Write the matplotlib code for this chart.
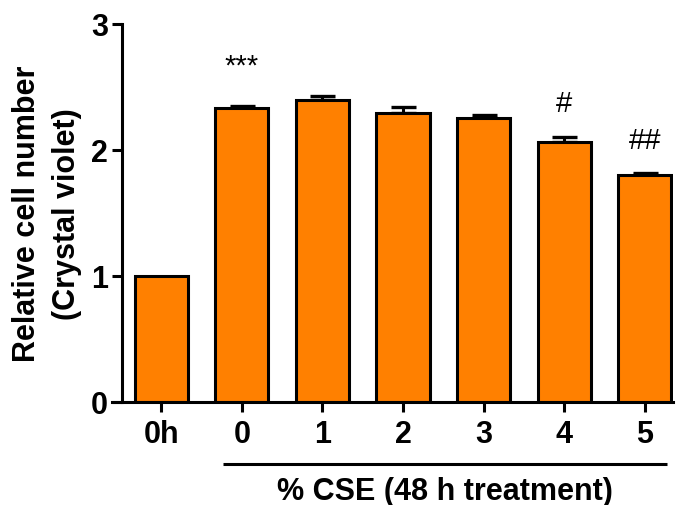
import matplotlib.pyplot as plt
import matplotlib.transforms as mtransforms
import numpy as np

plt.rcParams["font.family"] = ["Liberation Sans", "DejaVu Sans"]

ORANGE = "#FF8000"
INK = "#000000"

groups = ["0h", "0", "1", "2", "3", "4", "5"]
values = [1.00, 2.33, 2.40, 2.29, 2.25, 2.06, 1.80]
errors = [0.0, 0.02, 0.03, 0.05, 0.025, 0.04, 0.02]
marks = ["", "***", "", "", "", "#", "##"]
mark_y = [0.0, 2.56, 0.0, 0.0, 0.0, 2.26, 1.97]

fig = plt.figure(figsize=(6.77, 5.06), dpi=100)
ax = fig.add_axes([0.1654, 0.2036, 0.8287, 0.747])

x = np.arange(len(groups))
ax.bar(x, values, width=0.66, color=ORANGE, edgecolor=INK, linewidth=2.2,
       zorder=2)
ax.errorbar(x[1:], values[1:], yerr=[np.zeros(len(x) - 1), errors[1:]],
            fmt="none", ecolor=INK, elinewidth=2.2, capsize=9, capthick=2.4,
            zorder=1)

for xi, m, my in zip(x, marks, mark_y):
    if m:
        ax.text(xi, my, m, ha="center", va="bottom", fontsize=21, color=INK)

ax.set_xlim(-0.61, 6.35)
ax.set_ylim(0, 3)
ax.set_yticks([0, 1, 2, 3])
ax.set_xticks(x)
ax.set_xticklabels(groups)

for s in ("top", "right"):
    ax.spines[s].set_visible(False)
ax.spines["left"].set_position(("data", -0.484))
for s in ("left", "bottom"):
    ax.spines[s].set_linewidth(2.2)
ax.spines["left"].set_bounds(0, 3)

ax.tick_params(axis="both", width=2.2, length=7, labelsize=22, color=INK)
ax.tick_params(axis="y", pad=3)
ax.tick_params(axis="x", pad=5)
for lab in ax.get_xticklabels() + ax.get_yticklabels():
    lab.set_fontweight("bold")

ax.set_ylabel("Relative cell number\n(Crystal violet)", fontsize=22,
              fontweight="bold", labelpad=7, linespacing=1.4)

# bracket line under the CSE groups
trans = mtransforms.blended_transform_factory(ax.transData, ax.transAxes)
ax.plot([1 - 0.23, 6 + 0.27], [-0.164, -0.164], color=INK, lw=2.2,
        transform=trans, clip_on=False, solid_capstyle="butt")
ax.text(3.52, -0.235, "% CSE (48 h treatment)", transform=trans,
        ha="center", va="center", fontsize=22, fontweight="bold", color=INK)

fig.savefig("out.png", dpi=100)
